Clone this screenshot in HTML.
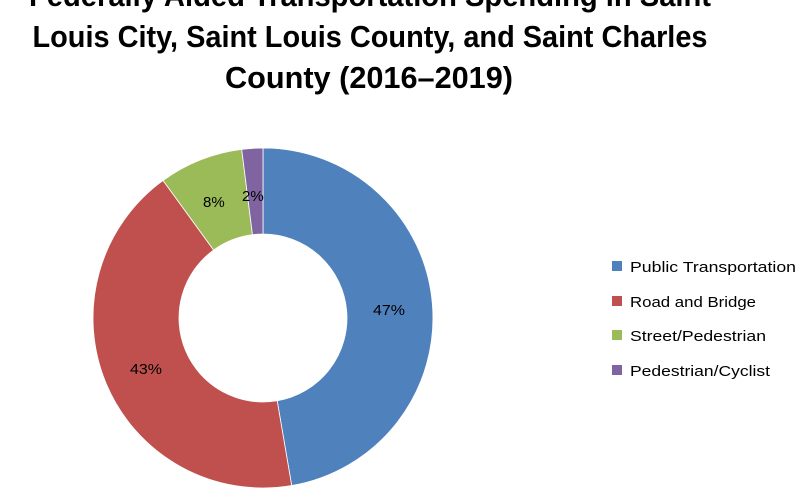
<!DOCTYPE html>
<html><head><meta charset="utf-8"><style>
html,body{margin:0;padding:0;background:#fff;width:812px;height:491px;overflow:hidden}
</style></head><body>
<svg width="812" height="491" viewBox="0 0 812 491" xmlns="http://www.w3.org/2000/svg">
<g font-family="'Liberation Sans Narrow','Liberation Sans',sans-serif" font-weight="bold" font-size="31" fill="#000" text-anchor="middle">
<text x="370" y="6" textLength="682" lengthAdjust="spacingAndGlyphs">Federally Aided Transportation Spending in Saint</text>
<text x="370" y="47" textLength="675" lengthAdjust="spacingAndGlyphs">Louis City, Saint Louis County, and Saint Charles</text>
<text x="369" y="88" textLength="288" lengthAdjust="spacingAndGlyphs">County (2016–2019)</text>
</g>
<g stroke="#fff" stroke-width="0.8">
<path d="M263,148 A170,170 0 0 1 291.71,485.55 L277.19,400.79 A84,84 0 0 0 263,234 Z" fill="#4f81bd"/>
<path d="M291.71,485.55 A170,170 0 0 1 163.07,180.47 L213.62,250.04 A84,84 0 0 0 277.19,400.79 Z" fill="#c0504d"/>
<path d="M163.07,180.47 A170,170 0 0 1 241.69,149.34 L252.47,234.66 A84,84 0 0 0 213.62,250.04 Z" fill="#9bbb59"/>
<path d="M241.69,149.34 A170,170 0 0 1 263,148 L263,234 A84,84 0 0 0 252.47,234.66 Z" fill="#8064a2"/>
</g>
<g font-family="'Liberation Sans',sans-serif" font-size="15" fill="#000">
<text x="373" y="315" textLength="32" lengthAdjust="spacingAndGlyphs">47%</text>
<text x="130" y="374" textLength="32" lengthAdjust="spacingAndGlyphs">43%</text>
<text x="203" y="207">8%</text>
<text x="242" y="201">2%</text>
</g>
<g font-family="'Liberation Sans',sans-serif" font-size="15" fill="#000">
<rect x="612" y="261" width="10" height="10" fill="#4f81bd"/><text x="630" y="272" textLength="166" lengthAdjust="spacingAndGlyphs">Public Transportation</text>
<rect x="612" y="296" width="10" height="10" fill="#c0504d"/><text x="630" y="307" textLength="126" lengthAdjust="spacingAndGlyphs">Road and Bridge</text>
<rect x="612" y="330" width="10" height="10" fill="#9bbb59"/><text x="630" y="341" textLength="136" lengthAdjust="spacingAndGlyphs">Street/Pedestrian</text>
<rect x="612" y="365" width="10" height="10" fill="#8064a2"/><text x="630" y="376" textLength="140" lengthAdjust="spacingAndGlyphs">Pedestrian/Cyclist</text>
</g>
</svg>
</body></html>
